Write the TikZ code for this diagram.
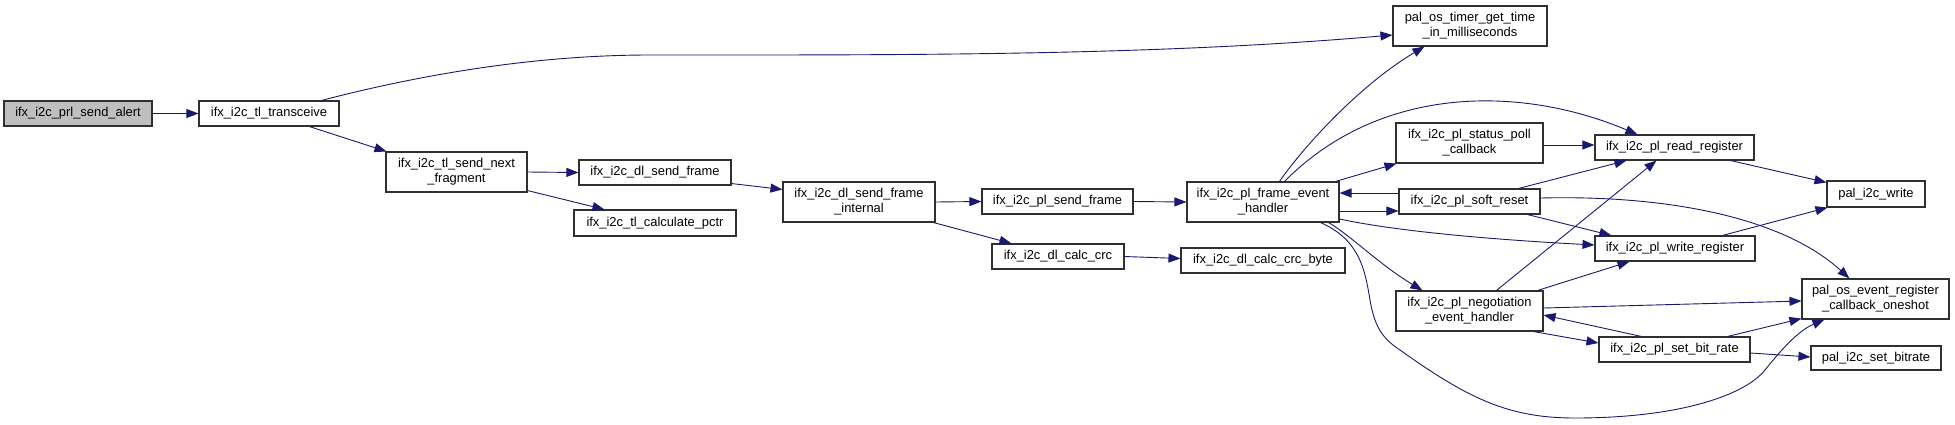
\documentclass[tikz,border=0pt]{standalone}
\usepackage{fontspec}
\setmainfont{Liberation Sans}
\usetikzlibrary{arrows.meta}
\definecolor{edgec}{HTML}{191970}
\definecolor{rootc}{HTML}{BFBFBF}
\definecolor{borderc}{HTML}{303030}
\tikzset{
  fn/.style={draw=borderc, line width=1.1pt, fill=white, inner sep=0pt, align=center,
    font=\fontsize{12.9}{15}\selectfont},
  sz/.style 2 args={minimum width=#1pt, minimum height=#2pt},
  call/.style={draw=edgec, line width=0.9pt, -{Triangle[length=12pt,width=9pt]}},
}
\begin{document}
\begin{tikzpicture}[x=1pt,y=-1pt]
\useasboundingbox (0,0) rectangle (1955,424);
% nodes
\node[fn,fill=rootc,sz={148}{25}] (alert) at (78,113.5) {ifx\_i2c\_prl\_send\_alert};
\node[fn,sz={140}{25}] (transceive) at (269,113.5) {ifx\_i2c\_tl\_transceive};
\node[fn,sz={141}{40}] (nextfrag) at (456.5,172) {ifx\_i2c\_tl\_send\_next\\\_fragment};
\node[fn,sz={152}{25}] (dlsend) at (655,172.5) {ifx\_i2c\_dl\_send\_frame};
\node[fn,sz={162}{26}] (pctr) at (655,223) {ifx\_i2c\_tl\_calculate\_pctr};
\node[fn,sz={152}{40}] (internal) at (859,202) {ifx\_i2c\_dl\_send\_frame\\\_internal};
\node[fn,sz={151}{25}] (plsend) at (1057.5,201.5) {ifx\_i2c\_pl\_send\_frame};
\node[fn,sz={132}{25}] (calccrc) at (1058,256.5) {ifx\_i2c\_dl\_calc\_crc};
\node[fn,sz={164}{25}] (crcbyte) at (1263,260.5) {ifx\_i2c\_dl\_calc\_crc\_byte};
\node[fn,sz={152}{40}] (feh) at (1263,202) {ifx\_i2c\_pl\_frame\_event\\\_handler};
\node[fn,sz={154}{40}] (timer) at (1470,26) {pal\_os\_timer\_get\_time\\\_in\_milliseconds};
\node[fn,sz={147}{40}] (poll) at (1469.5,143) {ifx\_i2c\_pl\_status\_poll\\\_callback};
\node[fn,sz={141}{25}] (reset) at (1469.5,201.5) {ifx\_i2c\_pl\_soft\_reset};
\node[fn,sz={147}{40}] (nego) at (1469.5,311) {ifx\_i2c\_pl\_negotiation\\\_event\_handler};
\node[fn,sz={159}{25}] (readreg) at (1674.5,147.5) {ifx\_i2c\_pl\_read\_register};
\node[fn,sz={160}{25}] (writereg) at (1675,248.5) {ifx\_i2c\_pl\_write\_register};
\node[fn,sz={151}{25}] (bitrate) at (1674.5,349.5) {ifx\_i2c\_pl\_set\_bit\_rate};
\node[fn,sz={98}{26}] (write) at (1876,194) {pal\_i2c\_write};
\node[fn,sz={147}{40}] (event) at (1875.5,299) {pal\_os\_event\_register\\\_callback\_oneshot};
\node[fn,sz={130}{24}] (setbr) at (1876,358) {pal\_i2c\_set\_bitrate};
% edges
\draw[call] (alert.east) -- (transceive.west);
\draw[call] ([xshift=123pt]transceive.north west) .. controls (400,80) and (520,55) .. (650,55)
  .. controls (900,55) and (1150,56) .. ([yshift=-9pt]timer.west);
\draw[call] ([xshift=111pt]transceive.south west) -- ([xshift=1pt]nextfrag.north west);
\draw[call] (nextfrag.east) -- (dlsend.west);
\draw[call] ([yshift=2pt]nextfrag.south east) -- ([xshift=31pt]pctr.north west);
\draw[call] ([yshift=2pt]dlsend.south east) -- ([yshift=-8pt]internal.north west);
\draw[call] (internal.east) -- (plsend.west);
\draw[call] ([xshift=-2pt]internal.south east) -- ([xshift=20pt]calccrc.north west);
\draw[call] (plsend.east) -- (feh.west);
\draw[call] (calccrc.east) -- ([yshift=2pt]crcbyte.west);
\draw[call] ([xshift=93pt]feh.north west) .. controls (1305,145) and (1360,85) .. ([xshift=32pt]timer.south west);
\draw[call] ([xshift=98pt]feh.north west) .. controls (1380,85) and (1520,85) .. ([xshift=43pt]readreg.north west);
\draw[call] ([xshift=-4pt]feh.north east) -- ([xshift=1pt]poll.south west);
\draw[call] ([yshift=8.5pt]reset.west) -- ([yshift=9pt]feh.east);
\draw[call] ([yshift=-9pt]feh.east) -- ([yshift=-9.5pt]reset.west);
\draw[call] ([yshift=-17pt]feh.east) .. controls (1400,232) and (1500,240) .. ([yshift=3.5pt]writereg.west);
\draw[call] ([xshift=-11pt]feh.south east) .. controls (1350,235) and (1380,265) .. ([xshift=27pt]nego.north west);
\draw[call] ([xshift=-19pt]feh.south east) .. controls (1360,240) and (1365,270) .. (1370,300)
  .. controls (1375,330) and (1385,340) .. (1400,350)
  .. controls (1470,400) and (1510,418) .. (1575,418)
  .. controls (1680,418) and (1745,395) .. (1765,370)
  .. controls (1785,345) and (1800,330) .. ([xshift=23pt]event.south west);
\draw[call] ([yshift=-2pt]poll.east) -- ([yshift=2.5pt]readreg.west);
\draw[call] ([xshift=-22pt]reset.north east) -- ([xshift=32pt]readreg.south west);
\draw[call] ([yshift=3.5pt]reset.east) .. controls (1660,195) and (1780,215) .. ([xshift=48pt]event.north west);
\draw[call] ([xshift=-13pt]reset.south east) -- ([xshift=17pt]writereg.north west);
\draw[call] ([xshift=-24pt]readreg.south east) -- ([yshift=-2pt]write.north west);
\draw[call] ([xshift=-33pt]writereg.north east) -- ([xshift=1pt]write.south west);
\draw[call] ([xshift=101pt]nego.north west) -- ([xshift=62pt]readreg.south west);
\draw[call] ([xshift=-6pt]nego.north east) -- ([xshift=35pt]writereg.south west);
\draw[call] ([yshift=3pt]nego.east) -- ([yshift=-2pt]event.west);
\draw[call] ([xshift=43pt]bitrate.north west) -- ([yshift=-4pt]nego.east);
\draw[call] ([xshift=-10pt]nego.south east) -- ([yshift=6.5pt]bitrate.west);
\draw[call] ([xshift=-23pt]bitrate.north east) -- ([yshift=1pt]event.south west);
\draw[call] ([yshift=-3.5pt]bitrate.east) -- ([yshift=1pt]setbr.west);
\end{tikzpicture}
\end{document}
